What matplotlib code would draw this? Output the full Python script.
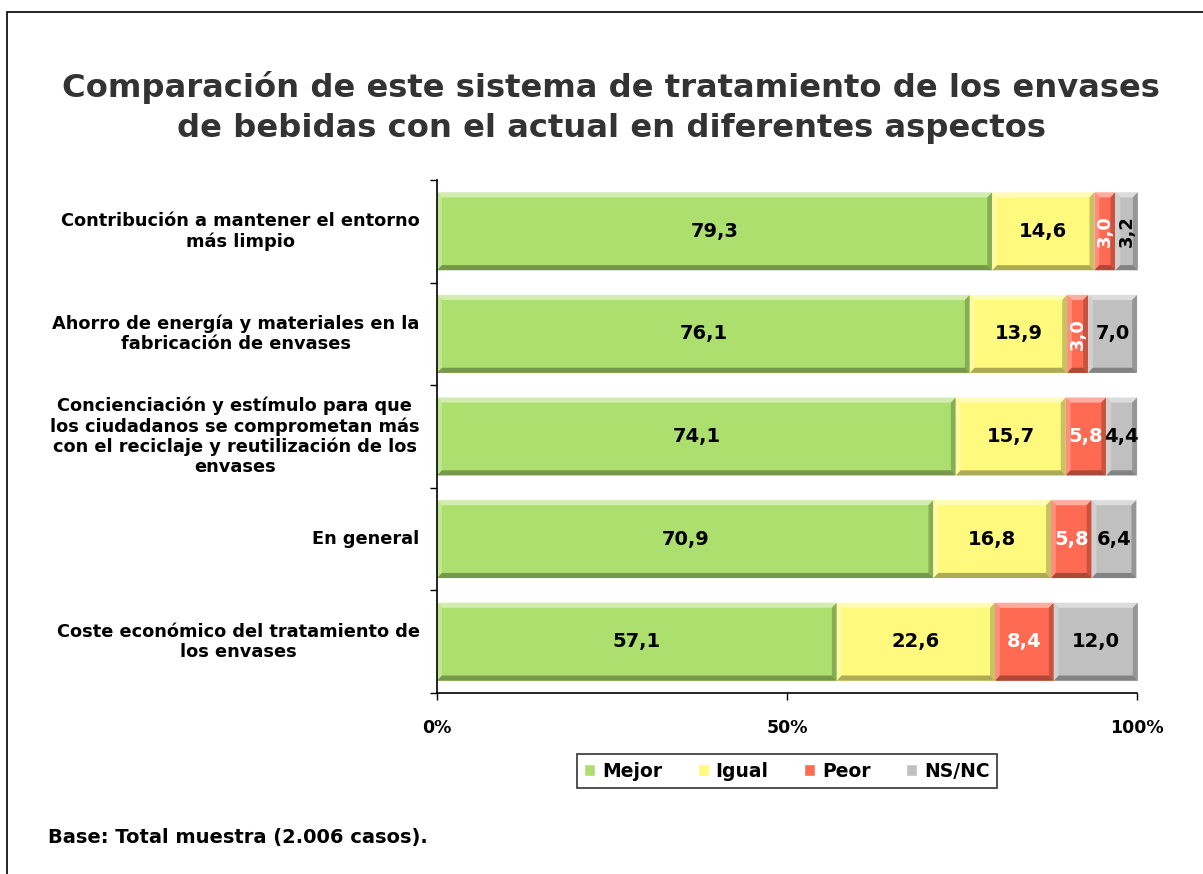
import matplotlib.pyplot as plt
import matplotlib.patches as mpatches
import matplotlib.colors as mcolors
import numpy as np

# Datos de la encuesta (porcentajes)
categorias = [
    "Contribución a mantener el entorno\nmás limpio",
    "Ahorro de energía y materiales en la\nfabricación de envases",
    "Concienciación y estímulo para que\nlos ciudadanos se comprometan más\ncon el reciclaje y reutilización de los\nenvases",
    "En general",
    "Coste económico del tratamiento de\nlos envases",
]
mejor = [79.3, 76.1, 74.1, 70.9, 57.1]
igual = [14.6, 13.9, 15.7, 16.8, 22.6]
peor = [3.0, 3.0, 5.8, 5.8, 8.4]
nsnc = [3.2, 7.0, 4.4, 6.4, 12.0]

series = [("Mejor", mejor, "#ADDF6E", "black"),
          ("Igual", igual, "#FFFA7D", "black"),
          ("Peor", peor, "#FF6A52", "white"),
          ("NS/NC", nsnc, "#C0C0C0", "black")]

plt.rcParams['font.family'] = 'DejaVu Sans'
plt.rcParams['font.weight'] = 'bold'


def mezcla(color, otro, t):
    c = np.array(mcolors.to_rgb(color))
    o = np.array(mcolors.to_rgb(otro))
    return tuple(c * (1 - t) + o * t)


def bisel(ax, x0, w, yc, h, color, bx=0.7, by=0.05):
    # bordes en relieve: claros arriba/izquierda, oscuros abajo/derecha
    y0, y1 = yc - h / 2, yc + h / 2   # y1 es el borde inferior (eje invertido)
    x1 = x0 + w
    bx = min(bx, w / 4)
    lados = [
        ([(x0, y0), (x1, y0), (x1 - bx, y0 + by), (x0 + bx, y0 + by)], mezcla(color, "white", 0.45)),
        ([(x0, y0), (x0 + bx, y0 + by), (x0 + bx, y1 - by), (x0, y1)], mezcla(color, "white", 0.25)),
        ([(x1, y0), (x1, y1), (x1 - bx, y1 - by), (x1 - bx, y0 + by)], mezcla(color, "black", 0.22)),
        ([(x0, y1), (x1, y1), (x1 - bx, y1 - by), (x0 + bx, y1 - by)], mezcla(color, "black", 0.32)),
    ]
    for pts, c in lados:
        ax.add_patch(mpatches.Polygon(pts, closed=True, facecolor=c, edgecolor="none",
                                      clip_on=False, zorder=2.5))


fig = plt.figure(figsize=(12.03, 8.74), dpi=100)
ax = fig.add_axes([0.3633, 0.2071, 0.5819, 0.587])

# marco exterior del gráfico
fig.patches.append(mpatches.Rectangle((7 / 1203, -0.05), 1.2, 1 - 12 / 874 + 0.05,
                                      transform=fig.transFigure, fill=False,
                                      edgecolor="black", linewidth=1.2))

alto = 0.76
y = np.arange(len(categorias))
izq = np.zeros(len(categorias))
for nombre, valores, color, color_txt in series:
    valores = np.array(valores)
    bars = ax.barh(y, valores, left=izq, height=alto, color=color,
                   edgecolor="white", linewidth=1.0, label=nombre, clip_on=False)
    for i, b in enumerate(bars):
        v = valores[i]
        bisel(ax, izq[i], v, y[i], alto, color)
        cx = izq[i] + v / 2
        rot = 90 if v < 3.5 else 0
        ax.text(cx, y[i], f"{v:.1f}".replace(".", ","), ha="center", va="center",
                fontsize=14 if rot == 0 else 13, fontweight="bold", color=color_txt,
                rotation=rot, zorder=4)
    izq += valores

ax.set_xlim(0, 100)
ax.set_ylim(4.5, -0.5)
ax.set_yticks(np.arange(-0.5, 5, 1))
ax.set_yticklabels([])
ax.tick_params(axis="y", length=5, width=1)
for i, c in enumerate(categorias):
    ax.text(-0.025, y[i], c, transform=ax.get_yaxis_transform(), ha="right",
            va="center", fontsize=12.8, fontweight="bold", multialignment="center",
            linespacing=1.15)

ax.set_xticks([0, 50, 100])
ax.set_xticklabels(["0%", "50%", "100%"], fontsize=12.5, fontweight="bold")
ax.tick_params(axis="x", length=5, width=1, pad=14)
ax.spines["top"].set_visible(False)
ax.spines["right"].set_visible(False)
ax.spines["left"].set_linewidth(1.2)
ax.spines["bottom"].set_linewidth(1.2)

fig.text(0.508, 0.877, "Comparación de este sistema de tratamiento de los envases\nde bebidas con el actual en diferentes aspectos",
         ha="center", va="center", fontsize=23.2, fontweight="bold", color="#333333",
         linespacing=1.4)

leg = ax.legend(loc="center", bbox_to_anchor=(0.654, 0.1178), bbox_transform=fig.transFigure,
                ncol=4, frameon=True, fancybox=False, edgecolor="black",
                prop={"weight": "bold", "size": 13.5}, handlelength=0.6, handleheight=0.6,
                handletextpad=0.35, columnspacing=1.9, borderpad=0.4)
leg.get_frame().set_linewidth(1.2)

fig.text(48 / 1203, 1 - 838 / 874, "Base: Total muestra (2.006 casos).", ha="left",
         va="center", fontsize=14, fontweight="bold")

fig.savefig("out.png", dpi=100)
